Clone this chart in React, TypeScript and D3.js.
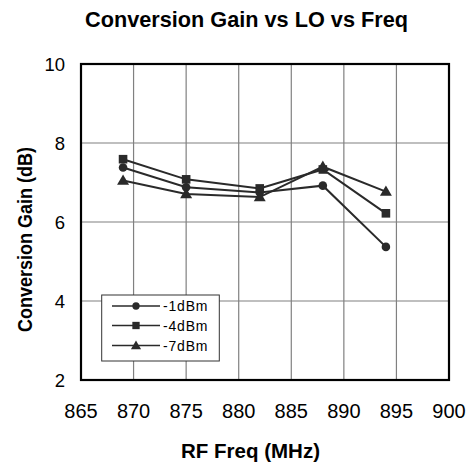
import React from "react";
import * as d3 from "d3";

const freqs = [869, 875, 882, 888, 894];
const seriesNames = ["-1dBm", "-4dBm", "-7dBm"];
const gainM1 = [7.38, 6.88, 6.75, 6.92, 5.37];
const gainM4 = [7.59, 7.08, 6.85, 7.33, 6.22];
const gainM7 = [7.05, 6.71, 6.63, 7.4, 6.77];
const xTicks = [865, 870, 875, 880, 885, 890, 895, 900];
const yTicks = [2, 4, 6, 8, 10];
const markerTypes = ["circle", "square", "triangle"];

const W = 472, H = 466;
const L = 81, R = 449, T = 64, B = 380;
const INK = "#2a2a2a";
const FONT = "'Liberation Sans', Arial, sans-serif";

function Marker({ type, x, y, s = 1 }: { type: string; x: number; y: number; s?: number }) {
  if (type === "circle") return <circle cx={x} cy={y} r={4.3 * s} fill={INK} />;
  if (type === "square") return <rect x={x - 4.3 * s} y={y - 4.3 * s} width={8.6 * s} height={8.6 * s} fill={INK} />;
  const sym = d3.symbol(d3.symbolTriangle, 62 * s * s)();
  return <path d={sym as string} transform={`translate(${x},${y + 0.8})`} fill={INK} />;
}

export default function App() {
  const x = d3.scaleLinear().domain([865, 900]).range([L, R]);
  const y = d3.scaleLinear().domain([2, 10]).range([B, T]);
  const series = [gainM1, gainM4, gainM7];
  const line = d3.line<number>().x((_, i) => x(freqs[i])).y((d) => y(d));

  const legX = 101.7, legY = 295, legW = 117.6, legH = 66;
  const rowYs = [306, 325.5, 345.5];

  return (
    <svg width={W} height={H} style={{ position: "absolute", left: 0, top: 0 }} fontFamily={FONT}>
      <rect width={W} height={H} fill="#fff" />
      {/* grid */}
      {xTicks.slice(1, -1).map((t) => (
        <line key={"gx" + t} x1={x(t)} x2={x(t)} y1={T} y2={B} stroke="#808080" strokeWidth={1.2} />
      ))}
      {yTicks.slice(1, -1).map((t) => (
        <line key={"gy" + t} x1={L} x2={R} y1={y(t)} y2={y(t)} stroke="#808080" strokeWidth={1.2} />
      ))}
      <rect x={L} y={T} width={R - L} height={B - T} fill="none" stroke="#000" strokeWidth={2.2} />

      {/* y tick labels */}
      {yTicks.map((t) => (
        <text key={"yl" + t} x={65} y={y(t) + 6.5} textAnchor="end" fontSize={18.5} fill="#000">
          {t}
        </text>
      ))}
      {/* x tick labels */}
      {xTicks.map((t) => (
        <text key={"xl" + t} x={x(t)} y={418.3} textAnchor="middle" fontSize={20} fill="#000">
          {t}
        </text>
      ))}

      {/* series */}
      {series.map((s, si) => (
        <g key={"s" + si}>
          <path d={line(s) as string} fill="none" stroke={INK} strokeWidth={2} />
          {s.map((v, i) => (
            <Marker key={i} type={markerTypes[si]} x={x(freqs[i])} y={y(v)} />
          ))}
        </g>
      ))}

      {/* legend */}
      <rect x={legX} y={legY} width={legW} height={legH} fill="#fff" stroke="#333" strokeWidth={1} />
      {seriesNames.map((n, i) => (
        <g key={"lg" + i}>
          <line x1={112} x2={160} y1={rowYs[i]} y2={rowYs[i]} stroke={INK} strokeWidth={1.5} />
          <Marker type={markerTypes[i]} x={136} y={rowYs[i]} s={0.85} />
          <text x={163} y={rowYs[i] + 5} fontSize={14} letterSpacing={0.8} fill="#000">
            {n}
          </text>
        </g>
      ))}

      {/* titles */}
      <text x={85} y={27} fontSize={22.5} fontWeight="bold" textLength={323} lengthAdjust="spacingAndGlyphs" fill="#000">
        Conversion Gain vs LO vs Freq
      </text>
      <text x={181} y={458} fontSize={20.5} fontWeight="bold" textLength={139} lengthAdjust="spacingAndGlyphs" fill="#000">
        RF Freq (MHz)
      </text>
      <text transform="translate(32,332) rotate(-90)" fontSize={20} fontWeight="bold" textLength={185} lengthAdjust="spacingAndGlyphs" fill="#000">
        Conversion Gain (dB)
      </text>
    </svg>
  );
}
